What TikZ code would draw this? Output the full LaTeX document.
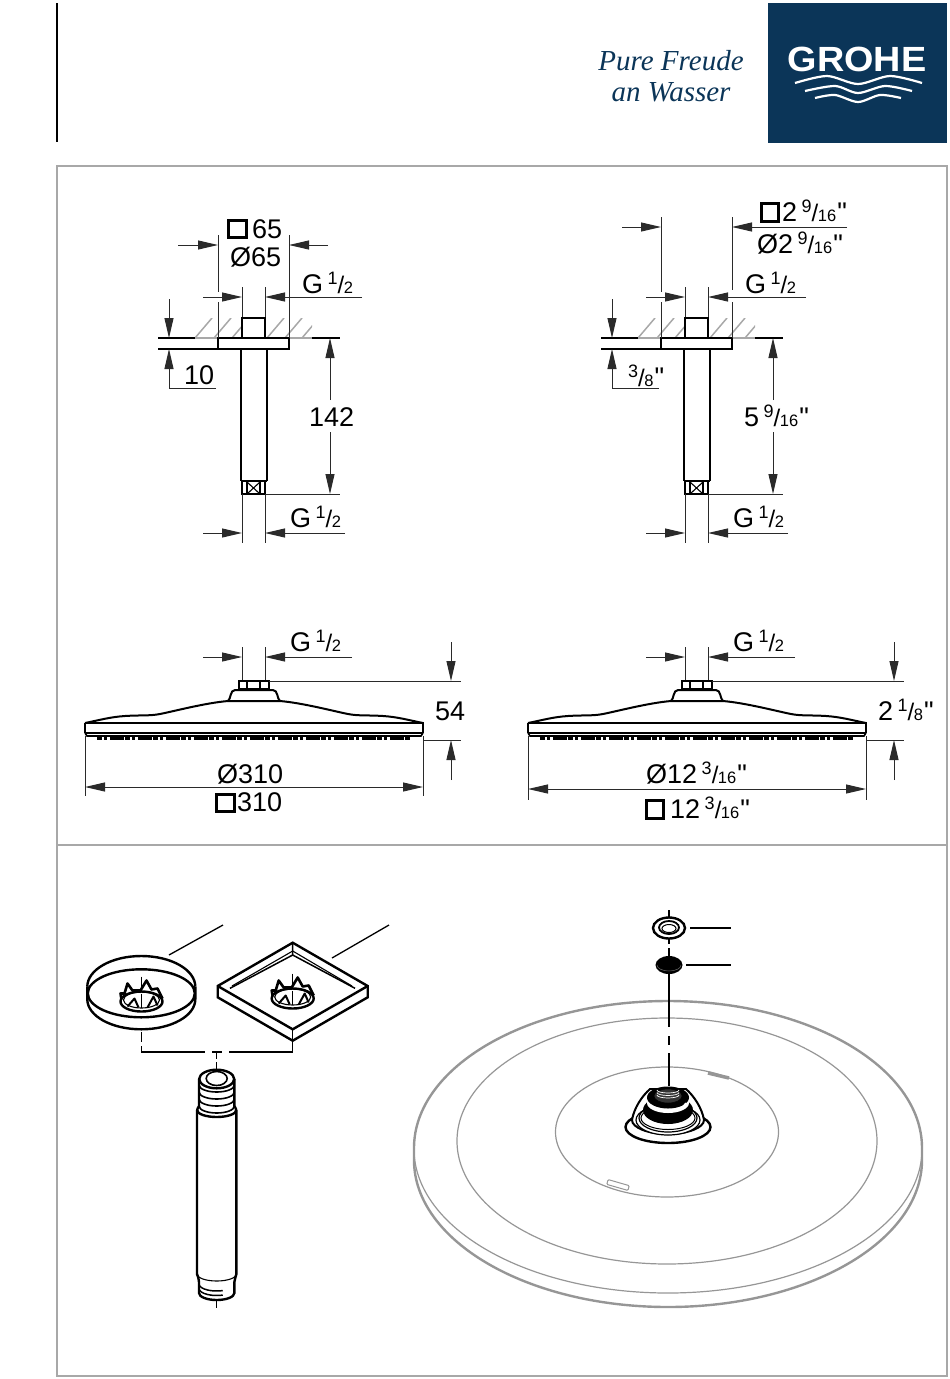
\documentclass[tikz,border=0pt]{standalone}
\usepackage{fontspec}
\setmainfont{Liberation Sans}
\newfontfamily\sloganfont{Liberation Serif}
\newfontfamily\plainmark{Liberation Sans}
\usepackage{xcolor}
\usetikzlibrary{arrows.meta, positioning}
\definecolor{grohenavy}{HTML}{0B3558}
\definecolor{framegray}{HTML}{A8A8A8}
\definecolor{headgray}{HTML}{969696}
\definecolor{dimgray}{HTML}{2A2A2A}
\newcommand{\hugesize}{\fontsize{27}{27}\selectfont}
\newcommand{\frc}[2]{\raisebox{9pt}{\fontsize{18}{18}\selectfont #1}{\fontsize{24}{24}\selectfont /}\kern-0.5pt{\fontsize{16.5}{16.5}\selectfont #2}}
\newcommand{\inch}{\kern1pt{\plainmark\symbol{34}}}
\tikzset{
	dimline/.style={draw=dimgray, line width=1pt},
	dimarrow/.style={dimline, -{Triangle[length=20pt,width=9pt]}},
	bothways/.style={dimline, {Triangle[length=20pt,width=9pt]}-{Triangle[length=20pt,width=9pt]}},
	bodyline/.style={draw=black, line width=2.4pt},
	thinline/.style={draw=black, line width=1.1pt},
	hatchline/.style={draw=framegray, line width=1.5pt},
	headline/.style={draw=headgray, line width=1.2pt},
	dimtext/.style={inner sep=0pt, anchor=base west, font=\hugesize, text=black},
	squaresym/.style={draw=black, line width=3pt, minimum size=17.5pt, inner sep=0pt, anchor=north west},
}
\begin{document}
\begin{tikzpicture}[x=1pt, y=-1pt]
	\useasboundingbox (0,0) rectangle (950,1379);
	% header
	\draw[black, line width=1.5pt] (57,3) -- (57,142);
	\fill[grohenavy] (768,3) rectangle (947,143);
	\node[inner sep=0pt, anchor=base, text=white, font=\fontsize{35}{35}\selectfont\bfseries, xscale=1.08] at (857,71) (brand) {GROHE};
	\draw[white, line width=2.2pt] plot[smooth] coordinates {(795,83) (827,76) (858,84) (890,76) (922,83)};
	\draw[white, line width=2.2pt] plot[smooth] coordinates {(805,91) (835,86) (858,93) (885,86) (912,91)};
	\draw[white, line width=2.2pt] plot[smooth] coordinates {(815,98) (835,95) (858,102) (880,95) (901,98)};
	\node[inner sep=0pt, anchor=base, text=grohenavy, font=\fontsize{29}{29}\sloganfont\itshape] at (671,70) (slogantop) {Pure Freude};
	\node[inner sep=0pt, anchor=base, text=grohenavy, font=\fontsize{29}{29}\sloganfont\itshape] at (671,101) (sloganlow) {an Wasser};
	% frame
	\draw[framegray, line width=1.6pt] (57,166) rectangle (947,1376);
	\draw[framegray, line width=1.6pt] (57,845) -- (947,845);

	% arm and head, same in both columns
	\foreach \dx in {0,443} {
	\begin{scope}[shift={(\dx,0)}]
		\begin{scope}
			\clip (195,318) rectangle (242,338) (265,318) rectangle (312,338);
			\foreach \hx in {195,214,232,267,285,302}
				\draw[hatchline] (\hx,338) -- (\hx+17,318);
		\end{scope}
		\draw[hatchline] (195,338) -- (312,338);
		\draw[thinline] (158,338) -- (195,338) (312,338) -- (340,338);
		\draw[thinline] (158,349) -- (218,349);
		\draw[dimarrow] (169,299) -- (169,338);
		\draw[dimarrow] (216,388) -- (169,388) -- (169,349);
		\draw[dimline] (242,287) -- (242,318) (265,287) -- (265,318);
		\draw[dimarrow] (203,297) -- (242,297);
		\draw[bodyline] (242,338) -- (242,318) -- (265,318) -- (265,338);
		\draw[bodyline] (218,338) rectangle (289,349);
		\draw[bodyline] (241,349) -- (241,481) (267,349) -- (267,481);
		\draw[bodyline] (242,481) -- (242,494) -- (265,494) -- (265,481);
		\draw[thinline] (241,481) -- (267,481);
		\draw[thinline] (247,482) -- (247,494) (260,482) -- (260,494);
		\draw[thinline] (247,482) -- (260,494) (247,494) -- (260,482);
		\draw[dimline] (265,494) -- (340,494);
		\draw[dimline] (242,494) -- (242,543) (265,494) -- (265,543);
		\draw[dimarrow] (203,533) -- (242,533);
		\draw[dimarrow] (345,533) -- (265,533);
		\draw[dimarrow] (330,400) -- (330,338) ;
		\draw[dimarrow] (330,432) -- (330,494);

		% side view of the head
		\draw[dimline] (242,647) -- (242,681) (265,647) -- (265,681);
		\draw[dimarrow] (203,657) -- (242,657);
		\draw[bodyline] (239,681) rectangle (269,689);
		\draw[thinline] (247,682) -- (247,689) (260,682) -- (260,689);
		\draw[bodyline, line width=2pt] (228,701) .. controls (231,699) and (230,690) .. (235,690) -- (273,690) .. controls (278,690) and (277,699) .. (280,701);
		\draw[bodyline, line width=2pt] (85,723) .. controls (100,720) and (110,717) .. (125,716) .. controls (140,715) and (150,716) .. (160,714) .. controls (175,711) and (205,703) .. (228,701) -- (280,701) .. controls (303,703) and (333,711) .. (348,714) .. controls (358,716) and (368,715) .. (383,716) .. controls (398,717) and (408,720) .. (423,723);
		\draw[bodyline, line width=1.6pt] (85,723) -- (85,733) (423,733) -- (423,723) -- (85,723);
		\draw[bodyline, line width=2.6pt] (85,733) -- (423,733);
		\draw[bodyline, line width=1.6pt] (85,733) -- (87,736) -- (421,736) -- (423,733);
		\draw[black, line width=3pt, dash pattern=on 5pt off 2pt on 3pt off 3pt on 14pt off 1pt] (97,738.5) -- (411,738.5);
		\draw[dimline] (85,736) -- (85,796) (423,736) -- (423,796);
		\draw[dimline] (269,681) -- (461,681) (423,740) -- (461,740);
		\draw[dimarrow] (451,642) -- (451,681);
		\draw[dimarrow] (451,780) -- (451,740);
	\end{scope}
	}

	% wide dimension lines, not the same per column
	\draw[dimline] (218,235) -- (218,292) (218,302) -- (218,338);
	\draw[dimline] (289,235) -- (289,338);
	\draw[dimarrow] (178,245) -- (218,245);
	\draw[dimarrow] (328,245) -- (289,245);
	\draw[dimarrow] (362,297) -- (265,297);
	\draw[dimarrow] (352,657) -- (265,657);
	\draw[bothways] (85,787) -- (423,787);

	\draw[dimline] (661,217) -- (661,292) (661,302) -- (661,338);
	\draw[dimline] (732,217) -- (732,290) (732,302) -- (732,338);
	\draw[dimarrow] (622,227) -- (661,227);
	\draw[dimarrow] (847,227) -- (732,227);
	\draw[dimarrow] (806,297) -- (708,297);
	\draw[dimarrow] (795,657) -- (708,657);
	\draw[bothways] (528,789) -- (866,789);
	\draw[dimline] (528,796) -- (528,800) (866,796) -- (866,800);

	% labels left
	\node[squaresym] at (227,218.5) (sqarm) {};
	\node[dimtext] at (252,238) (armwidth) {65};
	\node[dimtext] at (230,266) (armdia) {Ø65};
	\node[dimtext] at (302,293) (armthread) {G\,\frc{1}{2}};
	\node[dimtext] at (184,384) (armten) {10};
	\node[dimtext] at (309,426) (armlength) {142};
	\node[dimtext] at (290,527) (armend) {G\,\frc{1}{2}};
	\node[dimtext] at (290,651) (headthread) {G\,\frc{1}{2}};
	\node[dimtext] at (435,720) (headheight) {54};
	\node[dimtext] at (217,783) (headdia) {Ø310};
	\node[squaresym] at (215,792.5) (sqhead) {};
	\node[dimtext] at (237,811) (headwidth) {310};

	% labels right
	\node[squaresym] at (759.5,202) (sqarmin) {};
	\node[dimtext] at (782,221) (armwidthin) {2\,\frc{9}{16}\inch};
	\node[dimtext] at (757,253) (armdiain) {Ø2\,\frc{9}{16}\inch};
	\node[dimtext] at (745,293) (armthreadin) {G\,\frc{1}{2}};
	\node[dimtext] at (628,386) (armtenin) {\frc{3}{8}\inch};
	\node[dimtext] at (744,426) (armlengthin) {5\,\frc{9}{16}\inch};
	\node[dimtext] at (733,527) (armendin) {G\,\frc{1}{2}};
	\node[dimtext] at (733,651) (headthreadin) {G\,\frc{1}{2}};
	\node[dimtext] at (878,720) (headheightin) {2\,\frc{1}{8}\inch};
	\node[dimtext] at (646,783) (headdiain) {Ø12\,\frc{3}{16}\inch};
	\node[squaresym] at (644.5,799) (sqheadin) {};
	\node[dimtext] at (670,818) (headwidthin) {12\,\frc{3}{16}\inch};

	% round rosette
	\draw[bodyline] (87.3,986.7) arc[start angle=180, end angle=360, x radius=54, y radius=30.7];
	\draw[bodyline] (87.3,986.7) -- (87.3,999.3) arc[start angle=180, end angle=0, x radius=54, y radius=30] -- (195.3,986.7);
	\draw[bodyline] (141.3,993.3) ellipse (53.5 and 24);
	% square rosette
	\draw[bodyline] (292.7,942.7) -- (367.7,986) -- (367.7,997.3) -- (292.7,1040.7) -- (217.7,997.3) -- (217.7,986) -- cycle;
	\draw[bodyline] (217.7,986) -- (292.7,1029.3) -- (367.7,986);
	\draw[bodyline, line width=1.5pt] (292.7,942.7) -- (292.7,955) (230,988.3) -- (292.7,955) -- (355,988.3);
	\draw[thinline] (232,986) -- (292.7,951) -- (352,986);
	\draw[thinline] (292.7,1029.3) -- (292.7,1040.7);
	% crowns in both
	\foreach \cx/\cy in {141.5/1001.5, 292.7/998.5} {
	\begin{scope}[shift={(\cx,\cy)}]
		\draw[bodyline] (0,0) ellipse (21 and 10);
		\draw[thinline] (0,-1.5) ellipse (18 and 8);
		\draw[bodyline, line width=2.6pt, line join=round] (-20,-2) -- (-21,-8) -- (-17,-8) -- (-14,-18) -- (-9,-11) -- (-1,-11) -- (5,-21) -- (10,-12) -- (16,-13) -- (21,-3);
		\draw[bodyline, line width=2pt, line join=round] (-14,5) -- (-7,-3) -- (-3,6) (6,6) -- (12,-5) -- (16,4);
		\draw[thinline] (0,-25) -- (0,-14) (0,-8) -- (0,6);
	\end{scope}
	}
	% leaders
	\draw[thinline, line width=1.3pt] (169,955) -- (223,925);
	\draw[thinline, line width=1.3pt] (332,958) -- (389,925);
	% connector to nipple
	\draw[thinline] (141.3,1032) -- (141.3,1042) (141.3,1046) -- (141.3,1052) -- (205,1052);
	\draw[thinline] (212,1052) -- (222,1052) (229,1052) -- (292.7,1052) -- (292.7,1041);
	\draw[thinline] (216.7,1052) -- (216.7,1059) (216.7,1062) -- (216.7,1071);

	% nipple
	\draw[bodyline] (199,1079) -- (199,1106) .. controls (198,1108) and (197,1109) .. (197,1111) -- (197,1274) .. controls (198,1277) and (199,1279) .. (199,1282) -- (199,1293) arc[start angle=180, end angle=0, x radius=17.7, y radius=7] -- (234.4,1282) .. controls (234.4,1279) and (236,1277) .. (236.4,1274) -- (236.4,1111) .. controls (236.4,1109) and (235.4,1108) .. (234.4,1106) -- (234.4,1079);
	\draw[bodyline] (216.7,1079) ellipse (17.5 and 9.3);
	\draw[bodyline, line width=1.6pt] (216.7,1078.5) ellipse (10.5 and 7);
	\foreach \ty in {1085,1092,1099,1106}
		\draw[bodyline, line width=1.6pt] (199,\ty) arc[start angle=180, end angle=0, x radius=17.7, y radius=7];
	\draw[bodyline] (197,1110) arc[start angle=180, end angle=0, x radius=19.7, y radius=7];
	\draw[thinline] (197,1274) arc[start angle=180, end angle=0, x radius=19.7, y radius=7];
	\foreach \ty in {1284,1288.5}
		\draw[bodyline, line width=1.5pt] (199,\ty) arc[start angle=180, end angle=70, x radius=17.7, y radius=7];
	\draw[thinline] (216.7,1300) -- (216.7,1308);

	% big head
	\draw[headgray, line width=2.4pt] (414,1148) arc[start angle=180, end angle=360, x radius=254, y radius=147];
	\draw[headgray, line width=2.4pt] (414,1148) -- (414,1160) arc[start angle=180, end angle=0, x radius=254, y radius=147] -- (922,1148);
	\draw[headgray, line width=1.2pt] (414,1149) arc[start angle=180, end angle=0, x radius=254, y radius=144];
	\draw[headline] (667,1141) ellipse (210 and 123);
	\draw[headline] (667,1132) ellipse (111.5 and 65);
	\draw[headgray, line width=3.5pt] (708,1073) -- (729,1078);
	\draw[headline, rounded corners=1pt, line width=1pt, rotate around={-16:(618,1185)}] (607,1182.5) rectangle (629,1187.5);

	% fitting
	\draw[black, fill=white, line width=2.4pt] (668,1127) ellipse (42.5 and 16);
	\draw[black, fill=white, line width=2pt] (632,1120) .. controls (634,1108) and (642,1096) .. (650,1089) -- (686,1089) .. controls (694,1096) and (702,1108) .. (704,1120) arc[start angle=0, end angle=180, x radius=36, y radius=14];
	\draw[black, fill=white, line width=1.2pt] (668,1120) ellipse (32 and 15);
	\draw[black, fill=white, line width=1.2pt] (668,1118) ellipse (29 and 14);
	\draw[black, fill=white, line width=1pt] (668,1118) ellipse (27 and 11.5);
	\fill[black] (668,1110) ellipse (25 and 14);
	\fill[white] (668,1103) ellipse (21 and 10);
	\fill[black] (668,1097.5) ellipse (21 and 11);
	\fill[black] (648,1097) -- (654,1088) -- (682,1088) -- (688,1097);
	\draw[black, fill=black!80, line width=0.5pt] (668,1096) ellipse (14 and 7);
	\foreach \ty in {1090,1092.5,1095}
		\draw[white, line width=0.7pt] (657,\ty) arc[start angle=180, end angle=0, x radius=11, y radius=3];
	\draw[white, line width=1.5pt] (686,1103) -- (681,1109);

	% washer, filter and centre line
	\draw[black, line width=2pt] (669,910) -- (669,919);
	\draw[black, fill=white, line width=2.4pt] (669,928) ellipse (16 and 10.5);
	\draw[black, line width=1.8pt] (669,927.5) ellipse (10 and 6.5);
	\draw[black, line width=1pt] (669,928.5) ellipse (7 and 4);
	\draw[black, line width=2pt] (669,939) -- (669,944) (669,948) -- (669,956);
	\fill[black] (669,965) ellipse (13.5 and 9);
	\draw[black!60, line width=0.5pt] (657,965) arc[start angle=180, end angle=0, x radius=12, y radius=6];
	\draw[black, line width=1.5pt] (669,974) -- (669,1027) (669,1036) -- (669,1045) (669,1053) -- (669,1086);
	\draw[thinline, line width=1.3pt] (690,928) -- (731,928);
	\draw[thinline, line width=1.3pt] (686,965) -- (731,965);
\end{tikzpicture}
\end{document}
